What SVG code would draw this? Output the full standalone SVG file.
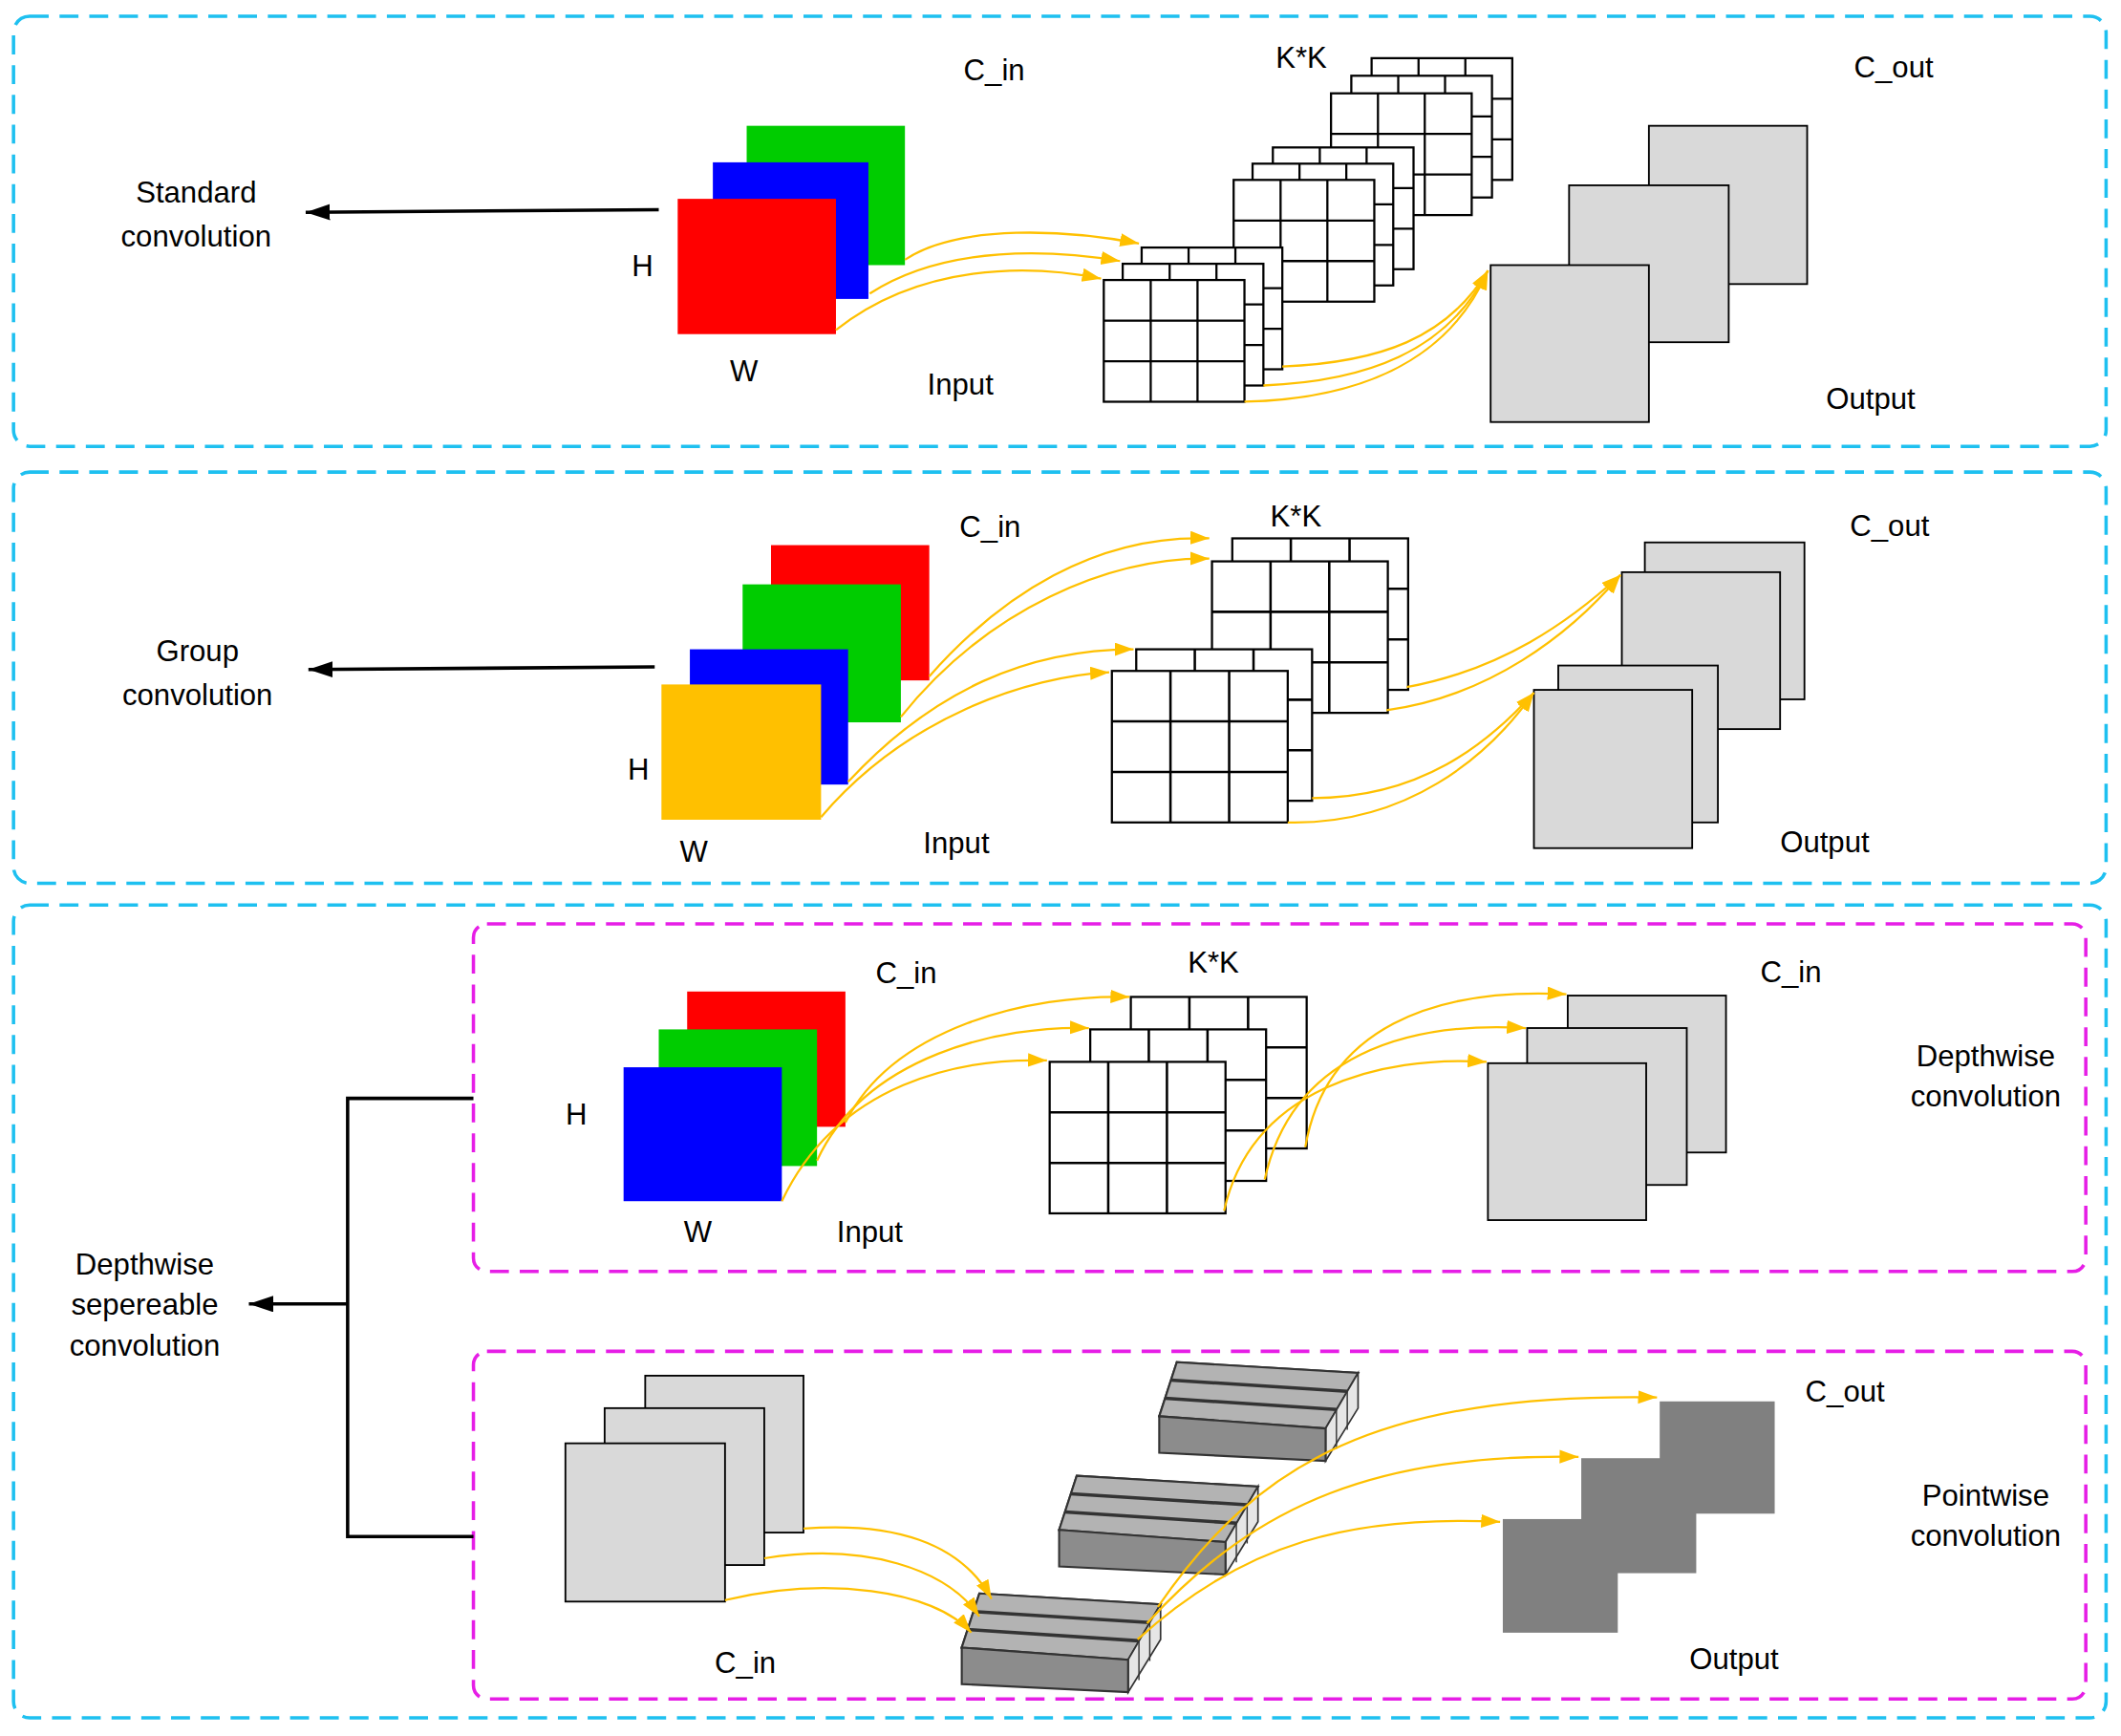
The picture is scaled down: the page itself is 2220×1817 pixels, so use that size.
<svg xmlns="http://www.w3.org/2000/svg" width="2220" height="1817" viewBox="0 0 2220 1817">
<style>
.t{font-family:"Liberation Sans",Arial,sans-serif;font-size:22px;fill:#000;text-anchor:middle}
.cy{fill:none;stroke:#1ec0f0;stroke-width:2.5;stroke-dasharray:14 8}
.mg{fill:none;stroke:#e61ee6;stroke-width:2.5;stroke-dasharray:14 8}
.gr{fill:#fff;stroke:#000;stroke-width:1.6}
.sq{stroke:#000;stroke-width:1.3;fill:#d9d9d9}
.yl{fill:none;stroke:#ffc000;stroke-width:1.6;marker-end:url(#ya)}
.bk{fill:none;stroke:#000;stroke-width:2.5}
.dk{fill:#808080}
.bf{fill:#8c8c8c;stroke:#333;stroke-width:1.5}
.bt{fill:#b3b3b3;stroke:#333;stroke-width:1.5}
.br{fill:#e6e6e6;stroke:#333;stroke-width:1.2}
</style>
<defs>
<marker id="ya" markerUnits="userSpaceOnUse" markerWidth="16" markerHeight="12" refX="14" refY="5" orient="auto"><path d="M0,0L14,5L0,10z" fill="#ffc000"/></marker>
<marker id="ba" markerUnits="userSpaceOnUse" markerWidth="20" markerHeight="14" refX="18" refY="6" orient="auto"><path d="M0,0L18,6L0,12z" fill="#000"/></marker>
<g id="g1"><rect class="gr" width="104" height="90"/><path d="M34.7,0V90M69.3,0V90M0,30H104M0,60H104" stroke="#000" stroke-width="1.6"/></g>
<g id="g2"><rect class="gr" width="130" height="112"/><path d="M43.3,0V112M86.7,0V112M0,37.3H130M0,74.7H130" stroke="#000" stroke-width="1.8"/></g>
<g id="blk">
<path class="bt" d="M13,-40L147,-32L123,9L0,0z"/>
<path class="bt" d="M0,0L13,-40L147,-32L123,9z" fill="none"/>
<path d="M4.3,-13.3L131,-5M8.7,-26.7L139,-18.5" stroke="#333" stroke-width="2.5"/>
<path class="br" d="M123,9L147,-32L147,-6L123,33z"/>
<path d="M131,-5V24M139,-18.5V10" stroke="#333" stroke-width="1"/>
<path class="bf" d="M0,0L123,9L123,33L0,27z"/>
</g>
</defs>
<g transform="scale(1.4158)">
<g id="panels">
<rect class="cy" x="10" y="12" width="1547" height="318" rx="12"/>
<rect class="cy" x="10" y="349" width="1547" height="304" rx="12"/>
<rect class="cy" x="10" y="669" width="1547" height="601" rx="12"/>
<rect class="mg" x="350" y="683" width="1192" height="257" rx="10"/>
<rect class="mg" x="350" y="999" width="1192" height="257" rx="10"/>
</g>
<g id="standard">
<text class="t" x="145" y="150">Standard</text><text class="t" x="145" y="182">convolution</text>
<rect x="552" y="93" width="117" height="103" fill="#00cc00"/>
<rect x="527" y="120" width="115" height="101" fill="#0000ff"/>
<rect x="501" y="147" width="117" height="100" fill="#ff0000"/>
<text class="t" x="475" y="204">H</text><text class="t" x="550" y="282">W</text>
<text class="t" x="735" y="59">C_in</text><text class="t" x="710" y="292">Input</text>
<text class="t" x="962" y="50">K*K</text>
<use href="#g1" x="1014" y="43"/><use href="#g1" x="999" y="56"/><use href="#g1" x="984" y="69"/>
<use href="#g1" x="941" y="109"/><use href="#g1" x="926" y="121"/><use href="#g1" x="912" y="133"/>
<use href="#g1" x="844" y="183"/><use href="#g1" x="830" y="195"/><use href="#g1" x="816" y="207"/>
<rect class="sq" x="1219" y="93" width="117" height="117"/>
<rect class="sq" x="1160" y="137" width="118" height="116"/>
<rect class="sq" x="1102" y="196" width="117" height="116"/>
<text class="t" x="1400" y="57">C_out</text><text class="t" x="1383" y="302">Output</text>
</g>
<g id="group">
<text class="t" x="146" y="489">Group</text><text class="t" x="146" y="521">convolution</text>
<rect x="570" y="403" width="117" height="100" fill="#ff0000"/>
<rect x="549" y="432" width="117" height="102" fill="#00cc00"/>
<rect x="510" y="480" width="117" height="100" fill="#0000ff"/>
<rect x="489" y="506" width="118" height="100" fill="#ffc000"/>
<text class="t" x="472" y="576">H</text><text class="t" x="513" y="637">W</text>
<text class="t" x="732" y="397">C_in</text><text class="t" x="707" y="631">Input</text>
<text class="t" x="958" y="389">K*K</text>
<use href="#g2" x="911" y="398"/><use href="#g2" x="896" y="415"/>
<use href="#g2" x="840" y="480"/><use href="#g2" x="822" y="496"/>
<rect class="sq" x="1216" y="401" width="118" height="116"/>
<rect class="sq" x="1199" y="423" width="117" height="116"/>
<rect class="sq" x="1152" y="492" width="118" height="116"/>
<rect class="sq" x="1134" y="510" width="117" height="117"/>
<text class="t" x="1397" y="396">C_out</text><text class="t" x="1349" y="630">Output</text>
</g>
<g id="separable">
<text class="t" x="107" y="942">Depthwise</text><text class="t" x="107" y="972">sepereable</text><text class="t" x="107" y="1002">convolution</text>
<rect x="508" y="733" width="117" height="100" fill="#ff0000"/>
<rect x="487" y="761" width="117" height="101" fill="#00cc00"/>
<rect x="461" y="789" width="117" height="99" fill="#0000ff"/>
<text class="t" x="426" y="831">H</text><text class="t" x="516" y="918">W</text>
<text class="t" x="670" y="727">C_in</text><text class="t" x="643" y="918">Input</text>
<text class="t" x="897" y="719">K*K</text>
<use href="#g2" x="836" y="737"/><use href="#g2" x="806" y="761"/><use href="#g2" x="776" y="785"/>
<rect class="sq" x="1159" y="736" width="117" height="116"/>
<rect class="sq" x="1129" y="760" width="118" height="116"/>
<rect class="sq" x="1100" y="786" width="117" height="116"/>
<text class="t" x="1324" y="726">C_in</text>
<text class="t" x="1468" y="788">Depthwise</text><text class="t" x="1468" y="818">convolution</text>
<rect class="sq" x="477" y="1017" width="117" height="116"/>
<rect class="sq" x="447" y="1041" width="118" height="116"/>
<rect class="sq" x="418" y="1067" width="118" height="117"/>
<text class="t" x="551" y="1237">C_in</text>
<use href="#blk" x="857" y="1047"/><use href="#blk" x="783" y="1131"/><use href="#blk" x="711" y="1218"/>
<rect class="dk" x="1227" y="1036" width="85" height="83"/>
<rect class="dk" x="1169" y="1078" width="85" height="85"/>
<rect class="dk" x="1111" y="1123" width="85" height="84"/>
<text class="t" x="1364" y="1036">C_out</text><text class="t" x="1282" y="1234">Output</text>
<text class="t" x="1468" y="1113">Pointwise</text><text class="t" x="1468" y="1143">convolution</text>
</g>
<g id="connectors">
<path class="bk" d="M487,155L226,157" marker-end="url(#ba)"/>
<path class="bk" d="M484,493L228,495" marker-end="url(#ba)"/>
<path class="bk" d="M350,812H257V1136H350M257,964H184" marker-end="url(#ba)"/>
<path class="yl" d="M669,192C710,165 790,170 842,180"/>
<path class="yl" d="M643,217C700,180 780,185 828,193"/>
<path class="yl" d="M618,244C680,195 760,195 814,206"/>
<path class="yl" d="M948,271C1020,268 1070,250 1100,200"/>
<path class="yl" d="M934,285C1010,282 1070,260 1100,200"/>
<path class="yl" d="M920,297C1000,295 1070,270 1100,200"/>
<path class="yl" d="M687,500C740,440 810,395 894,398"/>
<path class="yl" d="M666,530C730,450 820,412 894,413"/>
<path class="yl" d="M627,578C690,510 760,480 838,480"/>
<path class="yl" d="M607,604C670,530 760,500 820,497"/>
<path class="yl" d="M1040,508C1110,495 1160,460 1198,425"/>
<path class="yl" d="M1025,525C1100,515 1160,470 1198,425"/>
<path class="yl" d="M970,590C1050,590 1100,550 1134,512"/>
<path class="yl" d="M952,608C1040,610 1100,560 1134,512"/>
<path class="yl" d="M625,830C660,760 760,735 835,737"/>
<path class="yl" d="M604,858C640,780 740,758 805,760"/>
<path class="yl" d="M578,888C620,800 710,782 774,784"/>
<path class="yl" d="M965,848C980,760 1060,730 1158,735"/>
<path class="yl" d="M935,872C955,780 1040,755 1128,760"/>
<path class="yl" d="M905,895C925,805 1020,780 1099,785"/>
<path class="yl" d="M594,1130C660,1125 710,1140 733,1182"/>
<path class="yl" d="M565,1152C640,1140 700,1160 724,1195"/>
<path class="yl" d="M536,1183C610,1165 690,1175 718,1207"/>
<path class="yl" d="M856,1188C930,1080 1020,1030 1225,1033"/>
<path class="yl" d="M848,1200C930,1110 1020,1075 1167,1077"/>
<path class="yl" d="M841,1212C920,1140 1000,1120 1109,1125"/>
</g>
</g>
</svg>
